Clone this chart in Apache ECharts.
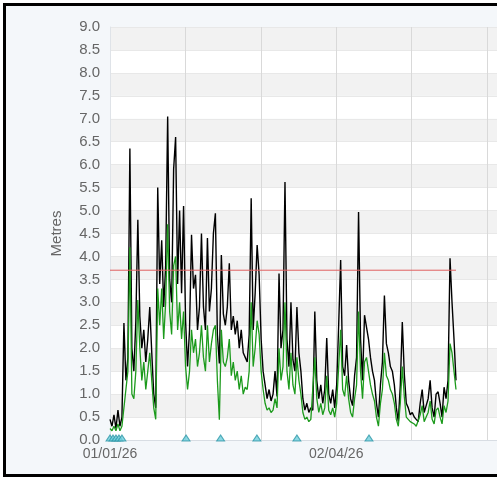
<!DOCTYPE html>
<html>
<head>
<meta charset="utf-8">
<script src="https://cdn.jsdelivr.net/npm/echarts@6/dist/echarts.min.js"></script>
<style>
  html, body { margin: 0; padding: 0; width: 497px; height: 477px; overflow: hidden; background: #ffffff; }
  #frame {
    position: absolute; left: 3px; top: 3px; width: 540px; height: 468px;
    border-top: 3px solid #000; border-left: 3px solid #000; border-bottom: 3px solid #000;
    border-right: none;
    background: #f4f7fa; overflow: hidden;
  }
  #chart { position: absolute; left: 0; top: 0; width: 491px; height: 468px; }
</style>
</head>
<body>
<div id="frame"><div id="chart"></div></div>
<script>
// Sampling interval of the wave record, in days from 01/01/26
const stepDays = 0.8;

// Maximum wave height (m)
const maxHeight = [
  0.45, 0.3, 0.55, 0.25, 0.65, 0.3, 0.5, 2.55, 1.3, 1.8,
  6.35, 2.0, 1.5, 2.6, 4.8, 2.7, 2.0, 2.4, 1.7, 2.2,
  2.9, 1.9, 1.0, 0.7, 5.5, 3.4, 4.35, 2.9, 3.8, 7.05,
  3.5, 3.0, 5.9, 6.6, 3.4, 5.0, 3.2, 5.1, 2.6, 1.6,
  2.4, 4.47, 3.3, 3.6, 2.4, 2.9, 4.5, 2.9, 2.4, 4.4,
  2.8, 3.3, 4.5, 4.94, 2.3, 1.67, 4.03, 2.75, 2.5, 2.9,
  3.85, 2.4, 2.7, 2.3, 2.6, 2.0, 2.4, 1.9, 1.8, 1.7,
  2.3, 5.27, 2.4, 3.2, 4.25, 3.6, 2.2, 1.5, 1.2, 0.9,
  1.1, 0.85, 1.0, 1.5, 0.95, 3.63, 2.0, 2.4, 5.62, 2.2,
  1.6, 3.0, 1.75, 1.5, 2.9, 1.9, 1.5, 0.9, 0.65, 0.8,
  0.6, 0.7, 0.65, 2.8, 1.3, 0.9, 1.2, 0.8, 1.1, 2.22,
  1.0, 0.8, 1.1, 0.7, 1.2, 2.5, 3.92, 1.6, 1.4, 2.07,
  1.3, 0.9, 0.75, 1.4, 1.8, 4.97, 2.2, 1.3, 2.72, 2.76,
  2.2, 1.8, 1.5, 1.3, 0.8, 0.5, 1.2, 1.7, 3.15, 2.1,
  1.9, 1.6, 1.5, 1.2, 0.7, 0.4, 1.2, 2.57, 1.45, 0.8,
  0.7, 0.55, 0.6, 0.5, 0.45, 0.4, 0.8, 1.1, 0.6, 0.75,
  0.9, 1.3, 0.7, 0.5, 1.0, 1.05, 0.8, 0.5, 1.15, 0.9,
  1.3, 3.96, 3.0, 2.2, 1.3
];

// Significant wave height (m)
const sigHeight = [
  0.25, 0.2, 0.3, 0.2, 0.35, 0.2, 0.3, 0.3, 1.1, 1.5,
  4.2, 1.0, 0.9, 1.5, 3.05, 2.0, 1.3, 1.7, 1.1, 1.5,
  1.9, 1.3, 0.7, 0.45, 3.3, 2.5, 3.3, 2.2, 3.0, 4.7,
  2.8, 2.3, 3.8, 4.0, 2.4, 3.0, 2.2, 2.8, 1.6, 1.1,
  1.5, 2.4, 1.9, 2.2, 1.6, 1.9, 2.5, 1.8, 1.5, 2.5,
  1.7, 2.1, 2.4, 2.5, 1.3, 0.44, 2.4, 1.7, 1.6, 1.8,
  2.2, 1.4, 1.7, 1.3, 1.5, 1.1, 1.4, 1.0, 1.15, 1.1,
  1.5, 3.0, 1.6, 2.0, 2.6, 2.3, 1.5, 1.1, 0.8, 0.65,
  0.7, 0.6, 0.65, 0.9, 0.7, 2.0, 1.3, 1.6, 3.0, 1.5,
  1.1, 1.9, 1.2, 1.0, 1.8, 1.3, 1.0, 0.6, 0.45, 0.5,
  0.4, 0.45, 0.45, 1.8, 0.9, 0.6, 0.8, 0.55, 0.7, 1.4,
  0.65, 0.55, 0.7, 0.5, 0.8, 1.6, 2.4, 1.1, 0.95, 1.4,
  0.9, 0.6, 0.5, 0.9, 1.2, 2.8, 1.5, 0.9, 1.7, 1.8,
  1.5, 1.2, 1.0, 0.85, 0.5, 0.3, 0.8, 1.1, 1.9, 1.4,
  1.3, 1.1, 1.0, 0.8, 0.45, 0.3, 0.8, 1.6, 0.95, 0.5,
  0.45, 0.4, 0.4, 0.35, 0.3, 0.3, 0.55, 0.75, 0.4, 0.5,
  0.6, 0.85, 0.45, 0.35, 0.65, 0.7, 0.5, 0.35, 0.75, 0.6,
  0.85, 2.1, 1.9, 1.5, 1.1
];

// Alert threshold (m)
const threshold = 3.7;

// Event markers along the time axis (days from 01/01/26)
const eventDays = [0, 1.2, 2.4, 3.6, 4.8, 30.6, 44.5, 59.1, 75.2, 104.2];

// Axis ticks
const dayInterval = 91 / 3;
const dateLabels = ['01/01/26', '', '', '02/04/26', '', ''];
const axisMaxDays = 155.7;
const yTickStep = 0.5;

const toPoints = vals => vals.map((v, i) => [i * stepDays, v]);
const lastDay = (maxHeight.length - 1) * stepDays;

const chart = echarts.init(document.getElementById('chart'), null, { renderer: 'canvas' });
const fontFamily = 'Liberation Sans, Arial, sans-serif';

chart.setOption({
  animation: false,
  backgroundColor: 'transparent',
  grid: { left: 104, right: 0, top: 21, bottom: 34 },
  xAxis: {
    type: 'value',
    min: 0,
    max: axisMaxDays,
    interval: dayInterval,
    axisLine: { show: true, lineStyle: { color: '#d8dde3', width: 1 } },
    axisTick: { show: false },
    axisLabel: {
      color: '#666666', fontSize: 14, fontFamily,
      margin: 7,
      showMaxLabel: false,
      formatter: v => dateLabels[Math.round(v / dayInterval)] || ''
    },
    splitLine: { show: true, lineStyle: { color: '#d9d9d9', width: 1 } }
  },
  yAxis: {
    type: 'value',
    min: 0,
    max: 9,
    interval: yTickStep,
    name: 'Metres',
    nameLocation: 'middle',
    nameGap: 46,
    nameRotate: 90,
    nameTextStyle: { color: '#666666', fontSize: 15, fontFamily },
    axisLine: { show: true, lineStyle: { color: '#dfe3e8', width: 1 } },
    axisTick: { show: false },
    axisLabel: { color: '#666666', fontSize: 15, fontFamily, margin: 10, formatter: v => v.toFixed(1) },
    splitLine: { show: true, lineStyle: { color: '#e8e8e8', width: 1 } },
    splitArea: { show: true, areaStyle: { color: ['#ffffff', '#f2f2f2'] } }
  },
  series: [
    {
      name: 'Max',
      type: 'line',
      data: toPoints(maxHeight),
      showSymbol: false,
      symbol: 'none',
      lineStyle: { color: '#000000', width: 1.4 },
      z: 2
    },
    {
      name: 'Significant',
      type: 'line',
      data: toPoints(sigHeight),
      showSymbol: false,
      symbol: 'none',
      lineStyle: { color: '#1c9a1c', width: 1.3 },
      z: 3
    },
    {
      name: 'Threshold',
      type: 'line',
      data: [[0, threshold], [lastDay, threshold]],
      showSymbol: false,
      symbol: 'none',
      lineStyle: { color: '#e06060', width: 1 },
      z: 4
    },
    {
      name: 'Events',
      type: 'scatter',
      data: eventDays.map(d => [d, 0]),
      symbol: 'triangle',
      symbolSize: [8, 6],
      symbolOffset: [0, -2],
      clip: false,
      itemStyle: { color: '#6fcfdd', borderColor: '#2f97a8', borderWidth: 1 },
      z: 5
    }
  ]
});
</script>
</body>
</html>
